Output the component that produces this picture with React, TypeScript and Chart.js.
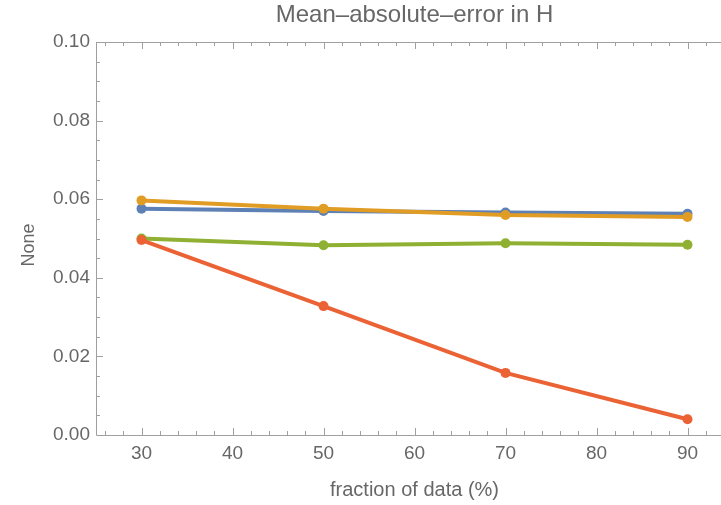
import { useEffect, useRef } from 'react';
import { Chart, registerables } from 'chart.js';

Chart.register(...registerables);

const fractions = [30, 50, 70, 90];
const seriesBlue = [0.0576, 0.057, 0.0566, 0.0563];
const seriesOrange = [0.0597, 0.0576, 0.056, 0.0555];
const seriesGreen = [0.05, 0.0483, 0.0488, 0.0484];
const seriesRed = [0.0496, 0.0328, 0.0158, 0.004];
const xTickValues = [30, 40, 50, 60, 70, 80, 90];
const yTickValues = [0, 0.02, 0.04, 0.06, 0.08, 0.1];

const titleText = 'Mean–absolute–error in H';
const xTitle = 'fraction of data (%)';
const yTitle = 'None';

const TEXT = '#676767';
const FRAME = '#9f9f9f';
const FONT = '"Liberation Sans", Arial, sans-serif';

const framePlugin = {
  id: 'frame',
  afterDraw(chart: any) {
    const { ctx, chartArea } = chart;
    const xs = chart.scales.x;
    const ys = chart.scales.y;
    const { left, right, top, bottom } = chartArea;
    ctx.save();
    ctx.strokeStyle = FRAME;
    ctx.lineWidth = 1;
    ctx.beginPath();
    ctx.moveTo(left + 0.5, top + 0.5);
    ctx.lineTo(right, top + 0.5);
    ctx.moveTo(left + 0.5, top);
    ctx.lineTo(left + 0.5, bottom + 0.5);
    ctx.lineTo(right, bottom + 0.5);
    // x ticks (major every 10, minor every 2)
    for (let v = 26; v <= 94; v += 2) {
      const major = v % 10 === 0;
      const len = major ? 7 : 4;
      const px = Math.round(xs.getPixelForValue(v)) + 0.5;
      ctx.moveTo(px, bottom);
      ctx.lineTo(px, bottom - len);
      ctx.moveTo(px, top);
      ctx.lineTo(px, top + len);
    }
    // y ticks (major every 0.02, minor every 0.005)
    for (let i = 1; i < 20; i++) {
      const v = i * 0.005;
      const major = i % 4 === 0;
      const len = major ? 7 : 4;
      const py = Math.round(ys.getPixelForValue(v)) + 0.5;
      ctx.moveTo(left, py);
      ctx.lineTo(left + len, py);
    }
    ctx.stroke();

    ctx.fillStyle = TEXT;
    ctx.textAlign = 'center';
    ctx.textBaseline = 'middle';
    const cx = (left + right) / 2;
    ctx.font = `24px ${FONT}`;
    ctx.fillText(titleText, cx, 15);
    ctx.font = `20px ${FONT}`;
    ctx.fillText(xTitle, cx, 490);
    ctx.font = `18px ${FONT}`;
    ctx.translate(29, 245);
    ctx.rotate(-Math.PI / 2);
    ctx.fillText(yTitle, 0, 0);
    ctx.restore();
  },
};

export default function App() {
  const ref = useRef<HTMLCanvasElement | null>(null);
  useEffect(() => {
    if (!ref.current) return;
    const mk = (data: number[], color: string, order: number) => ({
      data: fractions.map((f, i) => ({ x: f, y: data[i] })),
      borderColor: color,
      backgroundColor: color,
      borderWidth: 4,
      pointRadius: 5,
      pointBorderWidth: 0,
      pointBackgroundColor: color,
      tension: 0,
      order,
    });
    const chart = new Chart(ref.current, {
      type: 'line',
      data: {
        datasets: [
          mk(seriesBlue, '#5E81B5', 4),
          mk(seriesOrange, '#E19C24', 3),
          mk(seriesGreen, '#8FB032', 2),
          mk(seriesRed, '#EB6235', 1),
        ],
      },
      options: {
        animation: false,
        responsive: false,
        layout: { padding: { top: 42, right: 7, left: 0, bottom: 0 } },
        plugins: { legend: { display: false }, tooltip: { enabled: false }, title: { display: false } },
        scales: {
          x: {
            type: 'linear',
            min: 25,
            max: 95,
            afterBuildTicks: (s: any) => {
              s.ticks = xTickValues.map((v) => ({ value: v }));
            },
            afterFit: (s: any) => {
              s.height = 70;
            },
            grid: { display: false, drawTicks: false },
            border: { display: false },
            ticks: {
              padding: 7,
              color: TEXT,
              font: { size: 19, family: FONT },
              maxRotation: 0,
              callback: (v: any) => String(v),
            },
          },
          y: {
            type: 'linear',
            min: 0,
            max: 0.1,
            afterBuildTicks: (s: any) => {
              s.ticks = yTickValues.map((v) => ({ value: v }));
            },
            afterFit: (s: any) => {
              s.width = 96;
            },
            grid: { display: false, drawTicks: false },
            border: { display: false },
            ticks: {
              padding: 6,
              color: TEXT,
              font: { size: 19, family: FONT },
              callback: (v: any) => Number(v).toFixed(2),
            },
          },
        },
      },
      plugins: [framePlugin],
    });
    return () => chart.destroy();
  }, []);
  return (
    <div style={{ position: 'absolute', left: 0, top: 0, width: 721, height: 505, overflow: 'hidden', background: '#fff' }}>
      <canvas ref={ref} width={740} height={505} style={{ display: 'block', width: 740, height: 505 }} />
    </div>
  );
}
